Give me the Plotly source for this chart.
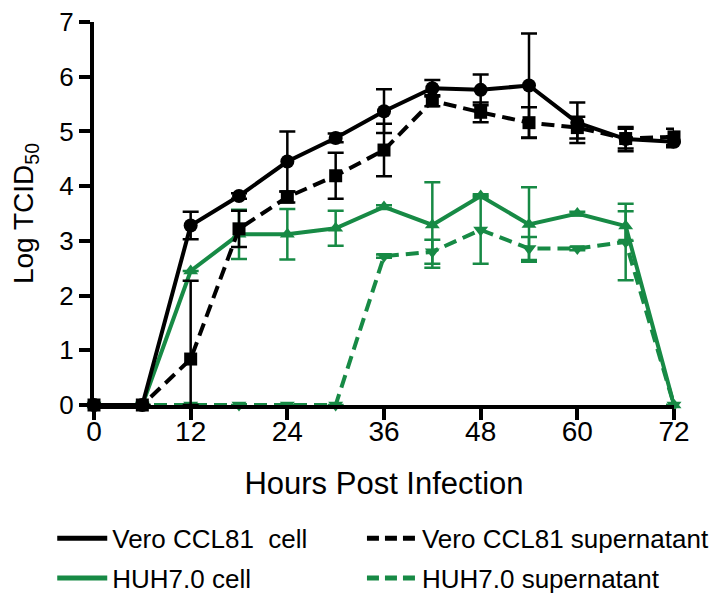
import plotly.graph_objects as go

hours = [0, 6, 12, 18, 24, 30, 36, 42, 48, 54, 60, 66, 72]

vero_cell = [0, 0, 3.28, 3.82, 4.45, 4.88, 5.37, 5.79, 5.76, 5.84, 5.16, 4.86, 4.81]
vero_cell_err = [0, 0, 0.25, 0.05, 0.55, 0.08, 0.40, 0.15, 0.28, 0.95, 0.37, 0.22, 0.10]

vero_sup = [0, 0, 0.84, 3.22, 3.80, 4.19, 4.66, 5.56, 5.35, 5.16, 5.07, 4.87, 4.90]
vero_sup_err_plus = [0, 0, 1.43, 0.33, 0.10, 0.42, 0.48, 0.10, 0.18, 0.28, 0.20, 0.18, 0.15]
vero_sup_err_minus = [0, 0, 0.84, 0.33, 0.10, 0.42, 0.48, 0.10, 0.18, 0.28, 0.20, 0.18, 0.15]

huh_cell = [0, 0, 2.45, 3.12, 3.12, 3.23, 3.62, 3.29, 3.82, 3.30, 3.50, 3.27, 0]
huh_cell_err = [0, 0, 0, 0.45, 0.46, 0.32, 0.03, 0.78, 0.03, 0.68, 0.03, 0.27, 0]

huh_sup = [0, 0, 0, 0, 0, 0, 2.72, 2.80, 3.20, 2.86, 2.86, 2.98, 0]
huh_sup_err = [0, 0, 0, 0, 0, 0, 0.03, 0.22, 0.62, 0.21, 0.03, 0.70, 0]

names = ["Vero CCL81  cell", "Vero CCL81 supernatant", "HUH7.0 cell", "HUH7.0 supernatant"]

BLACK = "#000000"
GREEN = "#178a45"
FONT = "Liberation Sans, Arial, sans-serif"
DASH = "13px,7px"

fig = go.Figure()

def add(y, color, dash, symbol, size, ep, em):
    fig.add_trace(go.Scatter(
        x=hours, y=y, mode="lines+markers",
        line=dict(color=color, width=4, dash=dash),
        marker=dict(color=color, symbol=symbol, size=size),
        error_y=dict(type="data", symmetric=False, array=ep, arrayminus=em,
                     color=color, thickness=2.5, width=8),
        cliponaxis=False, showlegend=False))

add(huh_sup, GREEN, DASH, "triangle-down", 13, huh_sup_err, huh_sup_err)
add(huh_cell, GREEN, "solid", "triangle-up", 13, huh_cell_err, huh_cell_err)
add(vero_sup, BLACK, DASH, "square", 13, vero_sup_err_plus, vero_sup_err_minus)
add(vero_cell, BLACK, "solid", "circle", 14, vero_cell_err, vero_cell_err)

# legend-only entries
leg = [(names[0], BLACK, "solid", "legend"), (names[2], GREEN, "solid", "legend"),
       (names[1], BLACK, "12px,6px", "legend2"), (names[3], GREEN, "12px,6px", "legend2")]
for i, (n, c, d, lg) in enumerate(leg):
    fig.add_trace(go.Scatter(x=[None], y=[None], mode="lines", name=n,
                             line=dict(color=c, width=5, dash=d),
                             legend=lg, legendgroup="g%d" % i))

legend_common = dict(font=dict(family=FONT, size=26, color="black"),
                     orientation="v", yanchor="top", xanchor="left",
                     tracegroupgap=3, itemwidth=50, bgcolor="rgba(0,0,0,0)")

fig.update_layout(
    width=720, height=600,
    margin=dict(l=86, r=54, t=14, b=203, autoexpand=False),
    plot_bgcolor="white", paper_bgcolor="white",
    font=dict(family=FONT, color="black"),
    legend=dict(x=-0.072, y=-0.287, **legend_common),
    legend2=dict(x=0.462, y=-0.287, **legend_common),
    xaxis=dict(range=[0, 72], tickvals=[0, 12, 24, 36, 48, 60, 72],
               showline=True, linecolor="black", linewidth=4,
               ticks="outside", ticklen=11, tickwidth=4, tickcolor="black",
               showgrid=False, zeroline=False, automargin=False,
               ticklabelstandoff=-13, ticklabeloverflow="allow",
               tickfont=dict(size=28, family=FONT),
               title=dict(text="Hours Post Infection", font=dict(size=31, family=FONT), standoff=28)),
    yaxis=dict(range=[0, 7], tickvals=list(range(0, 8)),
               showline=True, linecolor="black", linewidth=4,
               ticks="outside", ticklen=11, tickwidth=4, tickcolor="black",
               showgrid=False, zeroline=False, automargin=False,
               ticklabeloverflow="allow",
               tickfont=dict(size=26, family=FONT),
               title=dict(text="Log TCID<sub>50</sub>", font=dict(size=28, family=FONT), standoff=27)),
)

fig.write_html("out.html")
